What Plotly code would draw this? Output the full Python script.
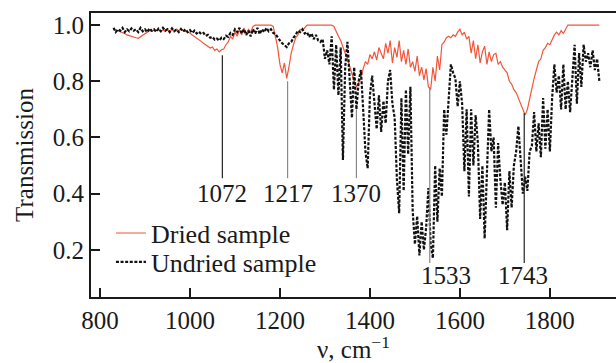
import plotly.graph_objects as go

# Wavenumber sampling (cm^-1), 830..1910 step 5
wavenumber = list(range(830, 1915, 5))

undried = [
    0.990, 0.975, 0.985, 0.980, 0.990, 0.975, 0.985, 0.978, 0.988, 0.980,
    0.985, 0.975, 0.990, 0.978, 0.985, 0.975, 0.988, 0.980, 0.985, 0.976,
    0.987, 0.978, 0.990, 0.980, 0.985, 0.975, 0.988, 0.978, 0.984, 0.975,
    0.986, 0.977, 0.985, 0.975, 0.982, 0.972, 0.980, 0.970, 0.976, 0.968,
    0.972, 0.962, 0.965, 0.955, 0.958, 0.948, 0.952, 0.945, 0.955, 0.950,
    0.962, 0.958, 0.972, 0.965, 0.985, 0.975, 0.990, 0.970, 0.985, 0.965,
    0.980, 0.960, 0.985, 0.970, 0.990, 0.968, 0.985, 0.975, 0.990, 0.978,
    0.985, 0.972, 0.968, 0.955, 0.945, 0.935, 0.930, 0.922, 0.935, 0.940,
    0.955, 0.965, 0.980, 0.975, 0.985, 0.970, 0.975, 0.958, 0.970, 0.950,
    0.965, 0.945, 0.940, 0.950, 0.880, 0.910, 0.860, 0.960, 0.770, 0.930,
    0.750, 0.920, 0.520, 0.850, 0.940, 0.800, 0.670, 0.850, 0.700, 0.800,
    0.840, 0.700, 0.550, 0.490, 0.750, 0.820, 0.720, 0.630, 0.750, 0.620,
    0.730, 0.650, 0.800, 0.840, 0.720, 0.670, 0.450, 0.330, 0.740, 0.410,
    0.770, 0.540, 0.780, 0.340, 0.220, 0.320, 0.180, 0.300, 0.200, 0.280,
    0.420, 0.220, 0.170, 0.500, 0.300, 0.490, 0.390, 0.700, 0.610, 0.760,
    0.860, 0.830, 0.810, 0.710, 0.800, 0.720, 0.480, 0.700, 0.390, 0.700,
    0.500, 0.680, 0.580, 0.310, 0.500, 0.240, 0.450, 0.700, 0.550, 0.600,
    0.350, 0.580, 0.450, 0.360, 0.440, 0.270, 0.480, 0.350, 0.500, 0.550,
    0.640, 0.520, 0.400, 0.460, 0.410, 0.550, 0.570, 0.690, 0.550, 0.650,
    0.530, 0.740, 0.560, 0.700, 0.550, 0.740, 0.860, 0.760, 0.820, 0.700,
    0.860, 0.700, 0.800, 0.690, 0.800, 0.930, 0.720, 0.900, 0.780, 0.930,
    0.870, 0.900, 0.850, 0.910, 0.840, 0.880, 0.800,
]

dried = [
    0.985, 0.982, 0.980, 0.978, 0.975, 0.970, 0.965, 0.962, 0.960, 0.958,
    0.955, 0.953, 0.958, 0.965, 0.970, 0.975, 0.980, 0.978, 0.982, 0.980,
    0.985, 0.978, 0.983, 0.980, 0.985, 0.978, 0.984, 0.980, 0.986, 0.980,
    0.985, 0.980, 0.978, 0.975, 0.972, 0.965, 0.960, 0.955, 0.948, 0.942,
    0.935, 0.930, 0.925, 0.918, 0.922, 0.910, 0.915, 0.905, 0.912, 0.915,
    0.930, 0.940, 0.960, 0.950, 0.975, 0.960, 0.985, 0.965, 0.990, 0.970,
    0.985, 0.975, 0.995, 1.000, 1.000, 1.000, 1.000, 1.000, 1.000, 1.000,
    1.000, 0.995, 0.960, 0.920, 0.860, 0.830, 0.865, 0.810, 0.850, 0.900,
    0.930, 0.955, 0.965, 0.985, 0.980, 0.990, 1.000, 1.000, 1.000, 1.000,
    1.000, 1.000, 1.000, 1.000, 1.000, 1.000, 1.000, 1.000, 0.995, 0.975,
    0.960, 0.945, 0.920, 0.900, 0.880, 0.850, 0.820, 0.800, 0.780, 0.795,
    0.810, 0.845, 0.870, 0.860, 0.895, 0.880, 0.905, 0.875, 0.920, 0.900,
    0.880, 0.935, 0.900, 0.945, 0.865, 0.920, 0.885, 0.945, 0.870, 0.910,
    0.860, 0.915, 0.850, 0.870, 0.835, 0.890, 0.820, 0.850, 0.805, 0.845,
    0.780, 0.770, 0.850, 0.800, 0.890, 0.840, 0.930, 0.940, 0.955, 0.960,
    0.955, 0.965, 0.960, 0.975, 0.985, 0.965, 0.975, 0.950, 0.960, 0.900,
    0.945, 0.880, 0.930, 0.865, 0.905, 0.925, 0.860, 0.905, 0.870, 0.895,
    0.900, 0.860, 0.870, 0.850, 0.840, 0.830, 0.800, 0.790, 0.770, 0.760,
    0.740, 0.720, 0.700, 0.680, 0.700, 0.740, 0.770, 0.810, 0.840, 0.870,
    0.880, 0.910, 0.920, 0.935, 0.930, 0.950, 0.965, 0.975, 0.965, 0.980,
    0.970, 0.985, 1.000, 1.000, 1.000, 1.000, 1.000, 1.000, 1.000, 1.000,
    1.000, 1.000, 1.000, 1.000, 1.000, 1.000, 1.000,
]

assert len(undried) == len(wavenumber) and len(dried) == len(wavenumber)

# Marked bands
peak_labels = ["1072", "1217", "1370", "1533", "1743"]
peak_wn = [1072, 1217, 1370, 1533, 1743]
peak_top = [0.893, 0.800, 0.700, 0.780, 0.686]
peak_bottom = [0.455, 0.455, 0.455, 0.153, 0.153]
label_wn = [1072, 1217, 1370, 1570, 1740]
label_y = [0.400, 0.400, 0.400, 0.110, 0.110]
peak_color = ["#222222", "#888888", "#888888", "#888888", "#222222"]

x_ticks = [800, 1000, 1200, 1400, 1600, 1800]
y_ticks = [0.2, 0.4, 0.6, 0.8, 1.0]

FONT = "Liberation Serif"
INK = "#1a1a1a"

fig = go.Figure()
fig.add_trace(go.Scatter(
    x=wavenumber, y=dried, mode="lines", name="Dried sample",
    line=dict(color="#F2553A", width=1.2), legend="legend", showlegend=True,
))
fig.add_trace(go.Scatter(
    x=wavenumber, y=undried, mode="lines", name="Undried sample",
    line=dict(color="#111111", width=2.2, dash="3px,1.6px"), legend="legend2",
    showlegend=True,
))

for wn, top, bot, col in zip(peak_wn, peak_top, peak_bottom, peak_color):
    fig.add_shape(type="line", xref="x", yref="y", x0=wn, x1=wn, y0=bot, y1=top,
                  line=dict(color=col, width=1.2), layer="above")

for txt, wn, yy in zip(peak_labels, label_wn, label_y):
    fig.add_annotation(x=wn, y=yy, xref="x", yref="y", text=txt, showarrow=False,
                       font=dict(family=FONT, size=25, color=INK),
                       xanchor="center", yanchor="middle")

fig.update_layout(
    width=616, height=363,
    margin=dict(l=91, r=0, t=13, b=66),
    paper_bgcolor="white", plot_bgcolor="white",
    showlegend=True,
    font=dict(family=FONT, size=25, color=INK),
    legend=dict(x=0.038, y=0.225, xanchor="left", yanchor="middle",
                bgcolor="rgba(0,0,0,0)", font=dict(family=FONT, size=26, color=INK),
                borderwidth=0, tracegroupgap=0, visible=True),
    legend2=dict(x=0.038, y=0.123, xanchor="left", yanchor="middle",
                 bgcolor="rgba(0,0,0,0)", font=dict(family=FONT, size=26, color=INK),
                 borderwidth=0, tracegroupgap=0, visible=True),
)

fig.update_xaxes(
    range=[780, 1947], tickvals=x_ticks, ticktext=[str(v) for v in x_ticks],
    ticks="inside", ticklen=9, tickwidth=1.5, tickcolor=INK,
    showline=True, linewidth=2, linecolor=INK, mirror=True,
    showgrid=False, zeroline=False,
    tickfont=dict(family=FONT, size=25, color=INK),
    title=dict(text="ν, cm<sup>−1</sup>", font=dict(family=FONT, size=25, color=INK), standoff=8),
)
fig.update_yaxes(
    range=[0.032, 1.043], tickvals=y_ticks, ticktext=[f"{v:.1f}" for v in y_ticks],
    ticks="inside", ticklen=9, tickwidth=1.5, tickcolor=INK,
    showline=True, linewidth=2, linecolor=INK, mirror=False,
    showgrid=False, zeroline=False,
    tickfont=dict(family=FONT, size=25, color=INK),
    title=dict(text="Transmission", font=dict(family=FONT, size=25, color=INK), standoff=12),
)

fig.write_html("out.html")
